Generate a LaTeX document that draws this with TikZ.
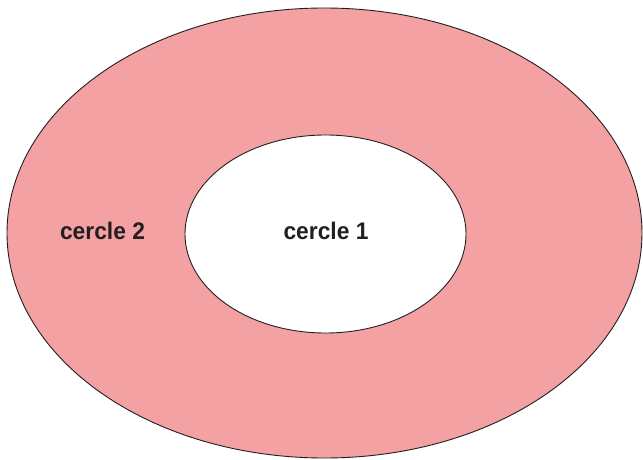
\documentclass[tikz,border=0pt]{standalone}
\usepackage{fontspec}
\setmainfont{Liberation Sans}[FakeStretch=0.95]
\usetikzlibrary{shapes.geometric}
\definecolor{ringpink}{RGB}{244,161,163}
\definecolor{txtdark}{RGB}{35,31,32}
\tikzset{
  ring/.style={ellipse, draw=txtdark, line width=0.9pt, inner sep=0pt},
  lbl/.style={font=\fontsize{24}{27}\selectfont\bfseries, text=txtdark, anchor=base, inner sep=0pt}
}
\begin{document}
\begin{tikzpicture}[x=1pt,y=1pt]
\useasboundingbox (0,0) rectangle (643,459);
\node[ring, fill=ringpink, minimum width=635pt, minimum height=450pt] (c2) at (324.5,226) {};
\node[ring, fill=white, minimum width=281pt, minimum height=198pt] (c1) at (325.5,225) {};
\node[lbl] (t2) at (102.5,220) {cercle 2};
\node[lbl] (t1) at (326,220) {cercle 1};
\end{tikzpicture}
\end{document}
